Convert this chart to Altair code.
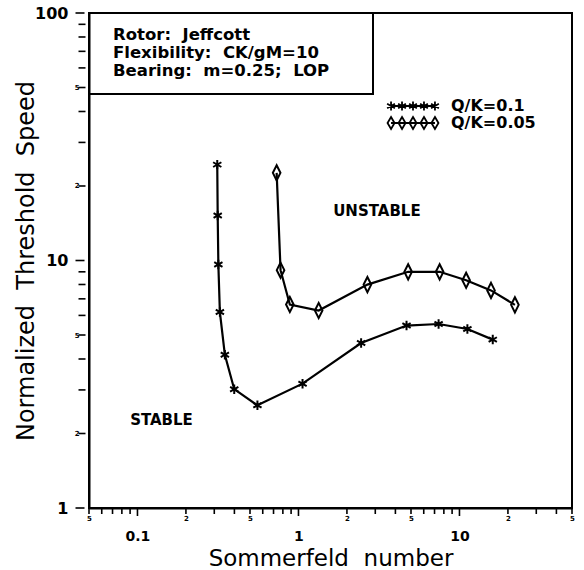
import altair as alt
import pandas as pd

FONT = "DejaVu Sans"
SP2 = "\u00a0\u00a0"  # wide word gap

# Stability threshold curves (log-log): Sommerfeld number vs normalized threshold speed
series_names = ["Q/K=0.1", "Q/K=0.05"]

s_q01 = [0.313, 0.315, 0.318, 0.325, 0.349, 0.399, 0.556, 1.06, 2.45, 4.69, 7.42, 11.2, 16.1]
w_q01 = [24.4, 15.2, 9.63, 6.19, 4.16, 3.02, 2.60, 3.18, 4.64, 5.46, 5.54, 5.29, 4.79]

s_q005 = [0.732, 0.774, 0.884, 1.335, 2.68, 4.80, 7.53, 11.0, 15.7, 22.1]
w_q005 = [22.6, 9.14, 6.64, 6.28, 7.99, 9.0, 9.0, 8.32, 7.57, 6.62]

box_lines = [f"Rotor:{SP2}Jeffcott",
             f"Flexibility:{SP2}CK/gM=10",
             f"Bearing:{SP2}m=0.25;{SP2}LOP"]

region_labels = ["UNSTABLE", "STABLE"]
region_s = [3.07, 0.141]
region_w = [15.8, 2.26]

x_domain = [0.05, 50]
y_domain = [1, 100]
x_ticks = [0.05, 0.06, 0.07, 0.08, 0.09,
           0.1, 0.2, 0.3, 0.4, 0.5, 0.6, 0.7, 0.8, 0.9,
           1, 2, 3, 4, 5, 6, 7, 8, 9,
           10, 20, 30, 40, 50]
y_ticks = [1, 2, 3, 4, 5, 6, 7, 8, 9,
           10, 20, 30, 40, 50, 60, 70, 80, 90,
           100]
x_major = [0.1, 1, 10]
y_major = [1, 10, 100]

# marker outlines (unit box), and five-marker strips for the legend
STAR = "M0,-1L0,1M-0.87,-0.5L0.87,0.5M-0.87,0.5L0.87,-0.5"
DIAMOND = "M0,-1.6L0.8,0L0,1.6L-0.8,0Z"


def star_at(cx):
    return (f"M{cx},-1L{cx},1M{cx-0.87},-0.5L{cx+0.87},0.5"
            f"M{cx-0.87},0.5L{cx+0.87},-0.5")


def diamond_at(cx):
    return f"M{cx},-1.35L{cx+0.78},0L{cx},1.35L{cx-0.78},0Z"


strip_x = [-4.88, -2.44, 0, 2.44, 4.88]
STAR_STRIP = "M-4.88,0L4.88,0" + "".join(star_at(c) for c in strip_x)
DIAMOND_STRIP = "M-4.88,0L4.88,0" + "".join(diamond_at(c) for c in strip_x)

rows = []
for name, xs, ys in [(series_names[0], s_q01, w_q01), (series_names[1], s_q005, w_q005)]:
    for i, (sv, wv) in enumerate(zip(xs, ys)):
        rows.append({"series": name, "idx": i, "S": sv, "W": wv})
df = pd.DataFrame(rows)

regions = pd.DataFrame({"label": region_labels, "S": region_s, "W": region_w})
one_row = pd.DataFrame({"k": [0]})

x_minor_df = pd.DataFrame({"S": [v for v in x_ticks if v not in x_major]})
x_major_df = pd.DataFrame({"S": x_major})
y_minor_df = pd.DataFrame({"W": [v for v in y_ticks if v not in y_major]})
y_major_df = pd.DataFrame({"W": y_major})

# leading digit of a tick value: 1 -> decade label, 2 / 5 -> small digit
LEAD = "round(datum.value / pow(10, floor(log(datum.value) / LN10 + 1e-6)))"
IS_MAJOR = f"{LEAD} == 1"
IS_SMALL = f"({LEAD} == 2 || {LEAD} == 5)"
LABEL_EXPR = f"{IS_MAJOR} ? datum.label : ({IS_SMALL} ? '' + {LEAD} : '')"

x_scale = alt.Scale(type="log", domain=x_domain, nice=False)
y_scale = alt.Scale(type="log", domain=y_domain, nice=False)

x_axis = alt.Axis(
    values=x_ticks, format="~g", labelExpr=LABEL_EXPR,
    title=f"Sommerfeld{SP2}number", titleFont=FONT, titleFontSize=23,
    titleFontWeight="normal", titleColor="black",
    titleY=57, titleBaseline="alphabetic",
    labelFont=FONT, labelFontWeight="bold", labelColor="black",
    labelFontSize={"condition": {"test": IS_MAJOR, "value": 14}, "value": 7},
    labelPadding={"condition": {"test": IS_MAJOR, "value": 15}, "value": 0},
    ticks=True, tickSize=6, tickOpacity=0,
    domain=True, domainColor="black", domainWidth=2,
    grid=False, labelOverlap=False, labelFlush=False, labelBound=False,
)

y_axis = alt.Axis(
    values=y_ticks, format="~g", labelExpr=LABEL_EXPR,
    title=f"Normalized{SP2}Threshold{SP2}Speed", titleFont=FONT, titleFontSize=24,
    titleFontWeight="normal", titleColor="black",
    titleAngle=270, titleX=-56, titleY=247.5, titleBaseline="alphabetic",
    titleAlign="center",
    labelFont=FONT, labelFontWeight="bold", labelColor="black",
    labelFontSize={"condition": {"test": IS_MAJOR, "value": 16}, "value": 7},
    labelPadding={"condition": {"test": IS_MAJOR, "value": 14}, "value": 3},
    ticks=True, tickSize=7, tickOpacity=0,
    domain=True, domainColor="black", domainWidth=2,
    grid=False, labelOverlap=False, labelFlush=False, labelBound=False,
)

x_enc = alt.X("S:Q", scale=x_scale, axis=x_axis)
y_enc = alt.Y("W:Q", scale=y_scale, axis=y_axis)


# tick marks below / left of the frame, longer at each decade
def x_tick_layer(frame, length):
    return alt.Chart(frame).mark_rule(color="black", strokeWidth=1.6).encode(
        x=x_enc, y=alt.value(495), y2=alt.value(495 + length))


def y_tick_layer(frame, length):
    return alt.Chart(frame).mark_tick(
        orient="horizontal", size=length, thickness=1.6, color="black", opacity=1
    ).encode(y=y_enc, x=alt.value(-length))


tick_layers = [x_tick_layer(x_minor_df, 6), x_tick_layer(x_major_df, 8),
               y_tick_layer(y_minor_df, 7), y_tick_layer(y_major_df, 9)]

curves = alt.Chart(df).mark_line(color="black", strokeWidth=2.2).encode(
    x=x_enc, y=y_enc, detail="series:N", order="idx:Q"
)

markers = alt.Chart(df).mark_point(
    filled=False, color="black", strokeWidth=2, size=90, opacity=1
).encode(
    x=x_enc, y=y_enc,
    shape=alt.Shape("series:N",
                    scale=alt.Scale(domain=series_names, range=[STAR, DIAMOND]),
                    legend=None),
)

legend_layer = alt.Chart(df).transform_filter("false").mark_point(
    filled=False, color="black", strokeWidth=1.8, size=81, opacity=1
).encode(
    x=x_enc, y=y_enc,
    shape=alt.Shape(
        "series:N",
        scale=alt.Scale(domain=series_names, range=[STAR_STRIP, DIAMOND_STRIP]),
        legend=alt.Legend(
            title=None, orient="none", legendX=316, legendY=85,
            padding=0, rowPadding=-2, labelOffset=30,
            labelFont=FONT, labelFontSize=16, labelFontWeight="bold",
            labelColor="black", symbolSize=81, symbolStrokeWidth=1.8,
            symbolStrokeColor="black", symbolOpacity=1,
        ),
    ),
)

region_text = alt.Chart(regions).mark_text(
    font=FONT, fontSize=15, fontWeight="bold", color="black",
    align="center", baseline="middle"
).encode(x=x_enc, y=y_enc, text="label:N")

info_box = alt.Chart(one_row).mark_rect(
    fill="white", fillOpacity=0, stroke="black", strokeWidth=2
).encode(x=alt.value(0), x2=alt.value(284), y=alt.value(0), y2=alt.value(81))

info_text = alt.Chart(one_row).mark_text(
    text=box_lines, font=FONT, fontSize=16.5, fontWeight="bold", color="black",
    align="left", baseline="alphabetic", lineHeight=18
).encode(x=alt.value(24), y=alt.value(27))

chart = alt.layer(
    *tick_layers, curves, markers, legend_layer,
    region_text, info_box, info_text
).resolve_scale(
    shape="independent"
).properties(
    width=483, height=495,
    autosize=alt.AutoSizeParams(type="none"),
    padding={"left": 89, "top": 13, "right": 12, "bottom": 62},
    background="white",
).configure_view(
    stroke="black", strokeWidth=2
)

chart.save("out.html", embed_options={"renderer": "svg", "actions": False})
